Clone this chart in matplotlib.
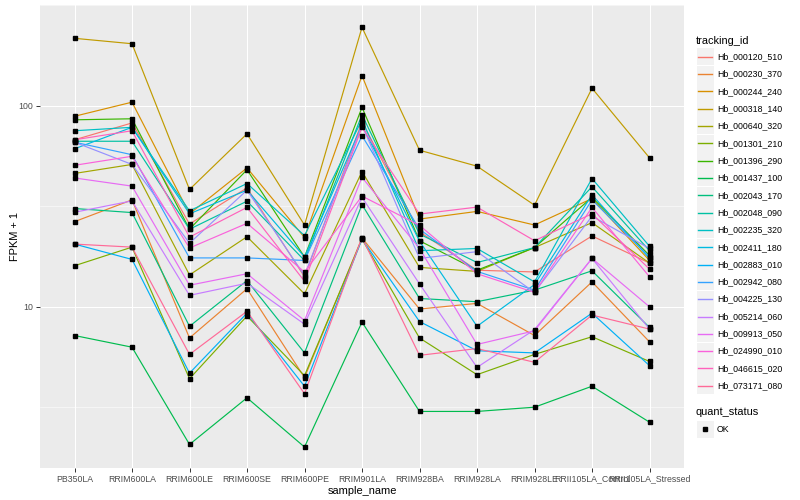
import numpy as np
import matplotlib
matplotlib.use("Agg")
import matplotlib.pyplot as plt
from matplotlib.lines import Line2D
from matplotlib.patches import Rectangle

plt.rcParams['font.family'] = ['Liberation Sans', 'DejaVu Sans']

samples = ["PB350LA", "RRIM600LA", "RRIM600LE", "RRIM600SE", "RRIM600PE", "RRIM901LA",
           "RRIM928BA", "RRIM928LA", "RRIM928LE", "RRII105LA_Control", "RRII105LA_Stressed"]

tracking_ids = ["Hb_000120_510", "Hb_000230_370", "Hb_000244_240", "Hb_000318_140", "Hb_000640_320",
                "Hb_001301_210", "Hb_001396_290", "Hb_001437_100", "Hb_002043_170", "Hb_002048_090",
                "Hb_002235_320", "Hb_002411_180", "Hb_002883_010", "Hb_002942_080", "Hb_004225_130",
                "Hb_005214_060", "Hb_009913_050", "Hb_024990_010", "Hb_046615_020", "Hb_073171_080"]

colors = ["#F8766D", "#EA8331", "#D89000", "#C09B00", "#A3A500", "#7CAE00", "#39B600", "#00BB4E",
          "#00BF7D", "#00C1A3", "#00BFC4", "#00BAE0", "#00B0F6", "#35A2FF", "#9590FF", "#C77CFF",
          "#E76BF3", "#FA62DB", "#FF62BC", "#FF6A98"]

hb_000120_510 = [67.6, 82, 25.8, 39, 14.1, 83, 23.6, 15.2, 14.9, 22.5, 16.5]
hb_000230_370 = [26.5, 34, 7.0, 12.3, 4.45, 22, 9.75, 10.4, 7.2, 13.3, 6.7]
hb_000244_240 = [88.5, 104, 29, 49, 22.1, 141, 27.3, 29.8, 25.5, 34.5, 17]
hb_000318_140 = [216, 203, 38.3, 72.4, 25.5, 245, 60, 50, 32, 122, 55]
hb_000640_320 = [46, 51, 14.4, 22.3, 11.6, 47, 15.7, 15.0, 19.7, 26.2, 16.5]
hb_001301_210 = [16, 19.8, 4.39, 9.0, 4.55, 21.7, 7.0, 4.6, 5.8, 7.1, 5.35]
hb_001396_290 = [85, 86, 24.3, 48, 17.7, 98, 21.3, 15.2, 19.7, 35, 18]
hb_001437_100 = [7.2, 6.3, 2.07, 3.53, 2.01, 8.4, 3.02, 3.02, 3.17, 4.03, 2.67]
hb_002043_170 = [30.8, 29.4, 8.0, 13.5, 5.9, 32.2, 11.0, 10.6, 12.1, 15.1, 7.9]
hb_002048_090 = [66.5, 66.5, 24.3, 33.5, 17, 90, 23, 16.6, 19.7, 39.5, 19]
hb_002235_320 = [75, 78, 30, 41, 22.6, 85, 19, 19.5, 13.3, 43.4, 20]
hb_002411_180 = [61, 78, 29, 38, 17.7, 80, 21.2, 8.0, 12.9, 36, 17.4]
hb_002883_010 = [20.5, 17.2, 4.68, 9.3, 4.03, 21.7, 8.45, 6.05, 5.9, 9.3, 5.1]
hb_002942_080 = [65.8, 57, 17.5, 17.5, 17, 70.8, 24.3, 15, 12.1, 34, 17.7]
hb_004225_130 = [65.8, 51, 20.7, 38, 14.3, 80, 17.4, 18.8, 11.8, 28.2, 19.5]
hb_005214_060 = [29.5, 33.6, 11.4, 13.1, 8.2, 35, 13, 5.0, 7.7, 17.4, 7.75]
hb_009913_050 = [43.7, 39.8, 12.8, 14.6, 8.55, 44, 19.5, 6.5, 7.6, 17.4, 10]
hb_024990_010 = [50.5, 56, 19.6, 26, 14.9, 35.5, 25.4, 14.6, 11.8, 31.2, 14.1]
hb_046615_020 = [67.6, 75, 22.2, 31.2, 13.4, 78, 28.9, 31.3, 21.3, 29, 15.4]
hb_073171_080 = [20.5, 19.8, 5.8, 9.5, 3.7, 22.1, 5.74, 6.2, 5.3, 9.1, 7.75]

series = [hb_000120_510, hb_000230_370, hb_000244_240, hb_000318_140, hb_000640_320,
          hb_001301_210, hb_001396_290, hb_001437_100, hb_002043_170, hb_002048_090,
          hb_002235_320, hb_002411_180, hb_002883_010, hb_002942_080, hb_004225_130,
          hb_005214_060, hb_009913_050, hb_024990_010, hb_046615_020, hb_073171_080]

W, H = 800, 500
fig = plt.figure(figsize=(8, 5), dpi=100)
px = 72 / 100.0  # pt per pixel

L, R, T, B = 40, 684, 5, 468
ax = fig.add_axes([L / W, 1 - B / H, (R - L) / W, (B - T) / H])
ax.set_facecolor("#EBEBEB")
ax.set_yscale("log")

x = np.arange(len(samples))
for vals, c in zip(series, colors):
    ax.plot(x, vals, color=c, lw=0.85, zorder=3)
for vals in series:
    ax.plot(x, vals, ls="none", marker="s", ms=2.2, color="black", zorder=4)

allv = np.log10(np.concatenate([np.array(s) for s in series]))
lo, hi = allv.min(), allv.max()
pad = 0.05 * (hi - lo)
ax.set_ylim(10 ** (lo - pad), 10 ** (hi + pad))
ax.set_xlim(-0.6, len(samples) - 1 + 0.6)

ax.set_yticks([10, 100])
ax.set_yticklabels(["10", "100"])
ax.set_yticks([10 ** 0.5, 10 ** 1.5, 10 ** 2.5], minor=True)
ax.yaxis.set_minor_formatter(matplotlib.ticker.NullFormatter())
ax.set_xticks(x)
ax.set_xticklabels(samples)

ax.grid(True, which="major", color="white", lw=1.07 * px)
ax.grid(True, which="minor", axis="y", color="white", lw=0.55 * px)
ax.set_axisbelow(True)
for s in ax.spines.values():
    s.set_visible(False)
ax.tick_params(axis="both", which="major", length=2.75, width=0.7, color="#333333",
               labelsize=8.8 * px, labelcolor="#4D4D4D", pad=2)
ax.tick_params(axis="y", which="minor", length=0)

ax.set_xlabel("sample_name", fontsize=11 * px, color="black", labelpad=1.5)
ax.set_ylabel("FPKM + 1", fontsize=11 * px, color="black", labelpad=-1)

def fx(p):
    return p / W

def fy(p):
    return 1 - p / H

fig.text(fx(696), fy(40.5), "tracking_id", fontsize=11 * px, va="center", ha="left")
y0, dy = 56.7, 17.32
for i, (tid, c) in enumerate(zip(tracking_ids, colors)):
    yc = y0 + i * dy
    fig.patches.append(Rectangle((fx(696.5), fy(yc + 8.5)), 17 / W, 17 / H,
                                 transform=fig.transFigure, facecolor="#F2F2F2",
                                 edgecolor="none"))
    fig.lines.append(Line2D([fx(698.2), fx(712)], [fy(yc), fy(yc)], transform=fig.transFigure,
                            color=c, lw=1.0))
    fig.text(fx(717), fy(yc), tid, fontsize=8.8 * px, va="center", ha="left")

fig.text(fx(696), fy(412), "quant_status", fontsize=11 * px, va="center", ha="left")
yc = 429
fig.patches.append(Rectangle((fx(696.5), fy(yc + 8.5)), 17 / W, 17 / H,
                             transform=fig.transFigure, facecolor="#F2F2F2", edgecolor="none"))
fig.lines.append(Line2D([fx(705)], [fy(yc)], transform=fig.transFigure, ls="none",
                        marker="s", ms=2.2, color="black"))
fig.text(fx(717), fy(yc), "OK", fontsize=8.8 * px, va="center", ha="left")

fig.savefig("out.png", dpi=100, facecolor="white")
